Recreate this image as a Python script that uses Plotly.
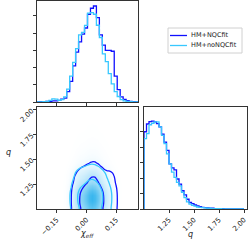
import numpy as np
import plotly.graph_objects as go

# ---------------- data ----------------
series_names = ["HM+NQCfit", "HM+noNQCfit"]
series_colors = ["#1010ff", "#38c8ff"]

# chi_eff histograms (density), bins start at chi_start, width chi_width
chi_start = -0.25
chi_width = 0.015
chi_hist_nqc = [0.0, 0.02, 0.02, 0.04, 0.04, 0.06, 0.06, 0.10, 0.17, 0.22,
                0.60, 1.20, 2.10, 2.90, 3.50, 3.95, 4.30, 5.10, 5.45, 5.58,
                4.90, 3.90, 3.30, 3.00, 3.00, 2.95, 1.50, 0.72, 0.30, 0.15,
                0.08, 0.04, 0.02, 0.0]
chi_hist_nonqc = [0.0, 0.0, 0.02, 0.04, 0.10, 0.18, 0.17, 0.10, 0.14, 0.30,
                  0.75, 1.50, 2.30, 3.10, 3.90, 4.05, 4.45, 5.17, 5.20, 5.10,
                  4.46, 3.75, 2.80, 2.35, 1.65, 1.05, 0.60, 0.32, 0.14, 0.07,
                  0.04, 0.02, 0.01, 0.0]

# q histograms (density), bins start at q_start, width q_width
q_start = 1.0
q_width = 0.025
q_hist_nqc = [5.00, 5.50, 5.66, 5.68, 5.64, 5.53, 5.32, 4.84, 4.33, 3.79,
              2.92, 2.66, 2.53, 1.94, 1.61, 1.18, 0.92, 0.63, 0.42, 0.35,
              0.26, 0.20, 0.15, 0.11, 0.09, 0.07, 0.05, 0.05, 0.03, 0.03,
              0.02, 0.02, 0.01, 0.01, 0.01, 0.01, 0.0, 0.0, 0.0, 0.0]
q_hist_nonqc = [4.55, 4.88, 5.45, 5.55, 5.64, 5.64, 5.32, 4.77, 4.23, 3.57,
                2.92, 2.38, 2.05, 1.72, 1.50, 1.07, 0.74, 0.46, 0.31, 0.24,
                0.18, 0.13, 0.11, 0.09, 0.07, 0.05, 0.05, 0.03, 0.03, 0.02,
                0.02, 0.01, 0.01, 0.01, 0.01, 0.0, 0.0, 0.0, 0.0, 0.0]

chi_ticks = [-0.15, 0.0, 0.15]
chi_ticklabels = ["\u22120.15", "0.00", "0.15"]
q_ticks = [1.25, 1.50, 1.75, 2.00]
q_ticklabels = ["1.25", "1.50", "1.75", "2.00"]
density_ticks = [0, 1, 2, 3, 4, 5]

# 2D density model: q-marginal x (chi-marginal)^chi_sharpness, contour
# levels given as fractions of the peak (outer / inner contour)
chi_sharpness = 2.0
contour_fracs = [0.07, 0.40]

chi_range = [-0.25, 0.26]
q_range = [1.0, 2.03]


# ---------------- helpers ----------------
def step_xy(start, width, h):
    h = np.asarray(h, float)
    edges = start + width * np.arange(len(h) + 1)
    x = np.concatenate([[edges[0]], edges[:-1], [edges[-1]]])
    y = np.concatenate([[0.0], h, [0.0]])
    return x, y


def centers(start, width, n):
    return start + width * (np.arange(n) + 0.5)


def smooth(z, k=(0.25, 0.5, 0.25)):
    k = np.asarray(k)
    zp = np.pad(z, 1, mode="edge")
    z1 = k[0] * zp[:-2, :] + k[1] * zp[1:-1, :] + k[2] * zp[2:, :]
    z2 = k[0] * z1[:, :-2] + k[1] * z1[:, 1:-1] + k[2] * z1[:, 2:]
    return z2


def joint(hq, hc):
    hq = np.asarray(hq, float)
    hc = np.asarray(hc, float)
    z = np.outer(hq / hq.max(), (hc / hc.max()) ** chi_sharpness)
    z = smooth(z)
    return z / z.max()


def padded(z, xc, yc, xr, yr):
    zz = np.pad(z, 1, mode="edge")
    xx = np.concatenate([[xr[0]], xc, [xr[1]]])
    yy = np.concatenate([[yr[0]], yc, [yr[1]]])
    return zz, xx, yy


chi_c = centers(chi_start, chi_width, len(chi_hist_nqc))
q_c = centers(q_start, q_width, len(q_hist_nqc))
chi_end = chi_start + chi_width * len(chi_hist_nqc)
q_end = q_start + q_width * len(q_hist_nqc)

fig = go.Figure()

# ---------------- 2D panel ----------------
z_nqc = joint(q_hist_nqc, chi_hist_nqc)
z_nonqc = joint(q_hist_nonqc, chi_hist_nonqc)

zf, xf, yf = padded(z_nonqc, chi_c, q_c, [chi_start, chi_end], [q_start, q_end])
fig.add_trace(go.Heatmap(
    z=zf, x=xf, y=yf, xaxis="x2", yaxis="y2", zsmooth="best",
    colorscale=[[0, "#ffffff"], [0.06, "#eaf8fe"], [0.4, "#a8e0f8"],
                [1, "#38b6ee"]],
    zmin=0, zmax=1.0, showscale=False, hoverinfo="skip"))

for z, col in [(z_nqc, series_colors[0]), (z_nonqc, series_colors[1])]:
    lo, hi = min(contour_fracs), max(contour_fracs)
    zp, xp, yp = padded(z, chi_c, q_c, [chi_start, chi_end], [q_start, q_end])
    fig.add_trace(go.Contour(
        z=zp, x=xp, y=yp, xaxis="x2", yaxis="y2",
        autocontour=False,
        contours=dict(coloring="lines", start=lo, end=hi,
                      size=hi - lo, showlabels=False),
        colorscale=[[0, col], [1, col]], showscale=False,
        line=dict(width=1.3, smoothing=1.0), hoverinfo="skip"))

# ---------------- 1D histograms ----------------
for hc, hq, col in [(chi_hist_nqc, q_hist_nqc, series_colors[0]),
                    (chi_hist_nonqc, q_hist_nonqc, series_colors[1])]:
    x, y = step_xy(chi_start, chi_width, hc)
    fig.add_trace(go.Scatter(x=x, y=y, mode="lines", line_shape="hv",
                             line=dict(color=col, width=1.3),
                             xaxis="x", yaxis="y", hoverinfo="skip"))
    x, y = step_xy(q_start, q_width, hq)
    fig.add_trace(go.Scatter(x=x, y=y, mode="lines", line_shape="hv",
                             line=dict(color=col, width=1.3),
                             xaxis="x3", yaxis="y3", hoverinfo="skip"))

# ---------------- layout ----------------
W, H = 249, 246
def px_x(a, b):
    return [a / W, b / W]
def px_y(top, bottom):
    return [1 - bottom / H, 1 - top / H]

tickfont = dict(family="DejaVu Sans", size=7, color="#222")
base = dict(showline=True, mirror=True, linecolor="#333", linewidth=1,
            showgrid=False, zeroline=False, ticks="outside", ticklen=3,
            tickwidth=1, tickcolor="#333", tickfont=tickfont, fixedrange=True,
            automargin=False)

fig.update_layout(
    width=W, height=H, margin=dict(l=0, r=0, t=0, b=0, autoexpand=False),
    paper_bgcolor="white", plot_bgcolor="white", showlegend=False,
    xaxis=dict(base, domain=px_x(37, 138), anchor="y", range=chi_range,
               tickvals=chi_ticks, showticklabels=False),
    yaxis=dict(base, domain=px_y(1, 102), anchor="x",
               range=[0, 5.87], tickvals=density_ticks, showticklabels=False),
    xaxis2=dict(base, domain=px_x(37, 138), anchor="y2", range=chi_range,
                tickvals=chi_ticks, ticktext=chi_ticklabels, tickangle=-45),
    yaxis2=dict(base, domain=px_y(107, 209), anchor="x2", range=q_range,
                tickvals=q_ticks, ticktext=q_ticklabels, tickangle=-45),
    xaxis3=dict(base, domain=px_x(144, 247), anchor="y3", range=q_range,
                tickvals=q_ticks, ticktext=q_ticklabels, tickangle=-45),
    yaxis3=dict(base, domain=px_y(107, 209), anchor="x3",
                range=[0, 6.6], tickvals=density_ticks, showticklabels=False),
)

# axis titles
title_font = dict(family="DejaVu Sans", size=8, color="#222")
fig.add_annotation(text="<i>q</i>", x=4 / W, y=1 - 152 / H, xref="paper",
                   yref="paper", showarrow=False, font=title_font)
fig.add_annotation(text="<i>\u03c7<sub>eff</sub></i>", x=87 / W,
                   y=1 - 241 / H, xref="paper", yref="paper",
                   showarrow=False, font=title_font)
fig.add_annotation(text="<i>q</i>", x=195 / W, y=1 - 241 / H, xref="paper",
                   yref="paper", showarrow=False, font=title_font)

# legend (drawn manually to match the compact matplotlib legend)
fig.add_shape(type="rect", xref="paper", yref="paper",
              x0=168 / W, x1=242 / W, y0=1 - 53 / H, y1=1 - 28 / H,
              line=dict(color="#d0d0d0", width=1), fillcolor="white")
for i, (name, col) in enumerate(zip(series_names, series_colors)):
    yy = 1 - (35.5 + 10 * i) / H
    fig.add_shape(type="line", xref="paper", yref="paper",
                  x0=170 / W, x1=187 / W, y0=yy, y1=yy,
                  line=dict(color=col, width=1.3))
    fig.add_annotation(text=name, x=189 / W, y=yy, xref="paper",
                       yref="paper", xanchor="left", yanchor="middle",
                       showarrow=False,
                       font=dict(family="DejaVu Sans", size=6.5, color="#222"))

fig.write_html("out.html", config={"displayModeBar": False},
               post_script="document.body.style.margin='0';"
                           "document.body.style.overflow='hidden';")
